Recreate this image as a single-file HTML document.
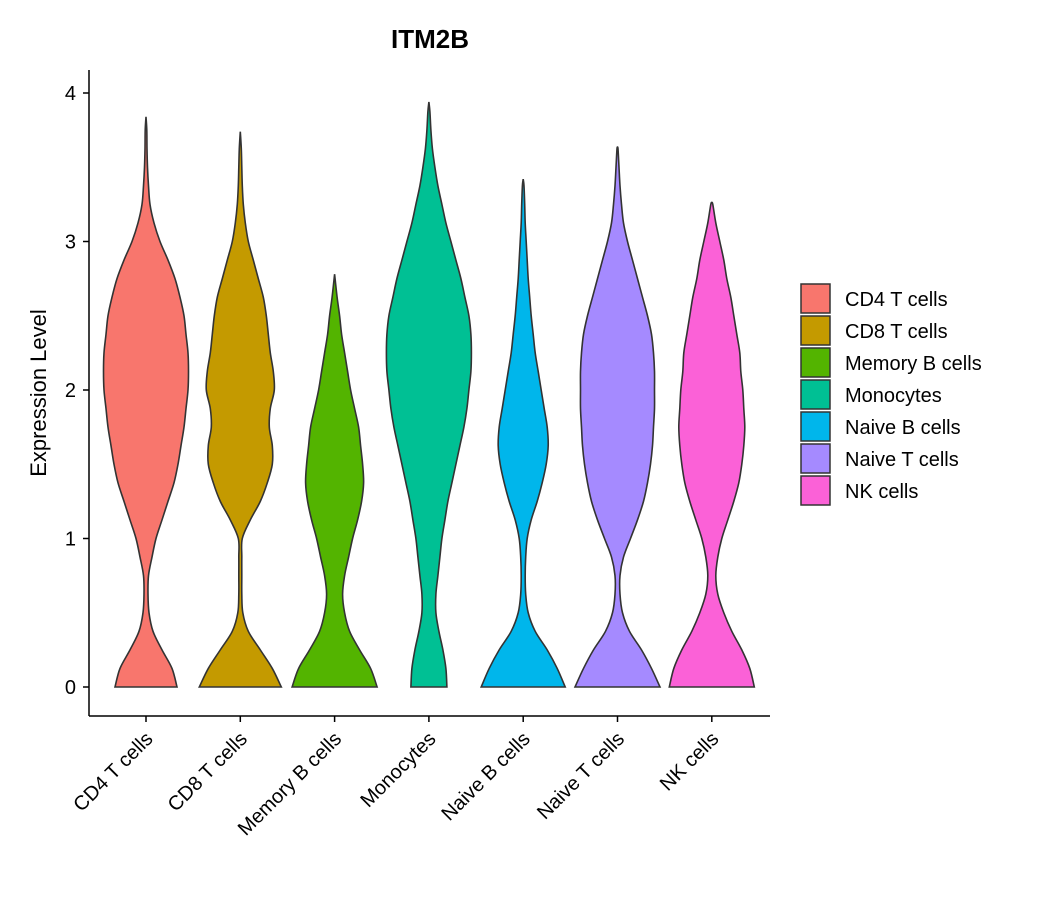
<!DOCTYPE html>
<html><head><meta charset="utf-8"><style>
body{margin:0;background:#fff;}
svg{display:block;font-family:"Liberation Sans","DejaVu Sans",sans-serif;}
</style></head><body>
<svg id="chart" width="1050" height="900">
<text x="430" y="48" text-anchor="middle" font-size="26" font-weight="bold">ITM2B</text>
<g id="violins"></g>
<line x1="89" y1="70" x2="89" y2="716" stroke="#000" stroke-width="1.5"/>
<line x1="89" y1="716" x2="770" y2="716" stroke="#000" stroke-width="1.5"/>
<g id="yticks"></g>
<g id="xticks"></g>
<text transform="translate(46,393) rotate(-90)" text-anchor="middle" font-size="22">Expression Level</text>
<g id="legend"></g>
</svg>
<script>
const categories=["CD4 T cells","CD8 T cells","Memory B cells","Monocytes","Naive B cells","Naive T cells","NK cells"];
const colors=["#F8766D","#C49A00","#53B400","#00C094","#00B6EB","#A58AFF","#FB61D7"];
const maxVals=[3.84,3.74,2.78,3.94,3.42,3.63,3.26];
// half-widths (relative to max) sampled every 0.125 from 0
const dCD4=[31,26,16,7,3,2,2.5,6,10,16,22,28,32,35,38,40,42,42.5,42,40,38,34,29,22,14,8,4,2.5,1.5,1,0.8].map(v=>v/42.5);
const dCD8=[41,32,20,8,2.5,1.5,1.5,1.5,2,10,20,27,32,32,29,30,34,33,30,28,26,23,18,13,8,5,3,2,1.5,1].map(v=>v/42.5);
const dMemB=[42.5,36,25,15,10,8,10,14,18,23,27,29,28,26,24,20,16,13,10,7,5,2.5].map(v=>v/42.5);
const dMono=[18,17,14,10,7,7,9,11,13,16,19,23,27,31,35,38,40,42,42.5,42,40,36,32,27,22,17,13,9,6,3.5,2,1].map(v=>v/42.5);
const dNaiveB=[42,34,24,12,5,2.5,2,2.5,4,8,14,19,23,25,24,21,18,15,12,10,8,6.5,5,4,3,2,1.5,0.8].map(v=>v/42.5);
const dNaiveT=[42.5,34,24,12,5,2.5,2.5,6,13,20,26,30,33,35,36,37,37,37,36,34,30,25,20,15,10,6,4,2.5,1.5,0.5].map(v=>v/42.5);
const dNK=[42.5,38,30,20,12,6,4,6,10,16,22,27,30,32,33,32,31,29,28,25,22,19,15,12,8,4,1].map(v=>v/42.5);
const densities=[dCD4,dCD8,dMemB,dMono,dNaiveB,dNaiveT,dNK];
const yTicks=[0,1,2,3,4];
const step=0.125;

const NS="http://www.w3.org/2000/svg";
const y0=687,pxPerUnit=148.5;
const yScale=v=>y0-v*pxPerUnit;
const xScale=i=>146+i*94.3;
const halfMax=42.5;

function curve(pts){
  let d='';
  for(let i=0;i<pts.length-1;i++){
    const p0=pts[Math.max(0,i-1)],p1=pts[i],p2=pts[i+1],p3=pts[Math.min(pts.length-1,i+2)];
    const c1=[p1[0]+(p2[0]-p0[0])/6,p1[1]+(p2[1]-p0[1])/6];
    const c2=[p2[0]-(p3[0]-p1[0])/6,p2[1]-(p3[1]-p1[1])/6];
    d+=` C${c1[0]},${c1[1]} ${c2[0]},${c2[1]} ${p2[0]},${p2[1]}`;
  }
  return d;
}
const gV=document.getElementById('violins');
categories.forEach((c,i)=>{
  const cx=xScale(i),dens=densities[i];
  const top=[cx,yScale(maxVals[i])];
  const right=dens.map((w,k)=>[cx+w*halfMax,yScale(k*step)]);
  right.push(top);
  const left=[top,...dens.map((w,k)=>[cx-w*halfMax,yScale(k*step)]).reverse()];
  let d=`M${right[0][0]},${right[0][1]}`+curve(right)+curve(left)+' Z';
  const p=document.createElementNS(NS,'path');
  p.setAttribute('d',d);p.setAttribute('fill',colors[i]);
  p.setAttribute('stroke','#333');p.setAttribute('stroke-width','1.6');
  
  
  gV.appendChild(p);
});
const gY=document.getElementById('yticks');
yTicks.forEach(t=>{
  const y=yScale(t);
  const l=document.createElementNS(NS,'line');
  l.setAttribute('x1',83);l.setAttribute('x2',89);l.setAttribute('y1',y);l.setAttribute('y2',y);l.setAttribute('stroke','#000');l.setAttribute('stroke-width','1.5');
  
  
  gY.appendChild(l);
  const tx=document.createElementNS(NS,'text');
  tx.setAttribute('x',76);tx.setAttribute('y',y+7);tx.setAttribute('text-anchor','end');tx.setAttribute('font-size','20');
  tx.textContent=t;
  
  
  gY.appendChild(tx);
});
const gX=document.getElementById('xticks');
categories.forEach((c,i)=>{
  const x=xScale(i);
  const l=document.createElementNS(NS,'line');
  l.setAttribute('x1',x);l.setAttribute('x2',x);l.setAttribute('y1',716);l.setAttribute('y2',722);l.setAttribute('stroke','#000');l.setAttribute('stroke-width','1.5');
  
  
  gX.appendChild(l);
  const tx=document.createElementNS(NS,'text');
  tx.setAttribute('transform',`translate(${x+8},${740}) rotate(-45)`);
  tx.setAttribute('text-anchor','end');tx.setAttribute('font-size','20');
  tx.textContent=c;
  
  
  gX.appendChild(tx);
});
const gL=document.getElementById('legend');
categories.forEach((c,i)=>{
  const y=283+i*32;
  const r=document.createElementNS(NS,'rect');
  r.setAttribute('x',801);r.setAttribute('y',y+1);r.setAttribute('width',29);r.setAttribute('height',29);
  r.setAttribute('fill',colors[i]);r.setAttribute('stroke','#333');r.setAttribute('stroke-width','1.5');
  
  
  gL.appendChild(r);
  const tx=document.createElementNS(NS,'text');
  tx.setAttribute('x',845);tx.setAttribute('y',y+23);tx.setAttribute('font-size','20');
  tx.textContent=c;
  
  
  gL.appendChild(tx);
});
</script>
</body></html>
